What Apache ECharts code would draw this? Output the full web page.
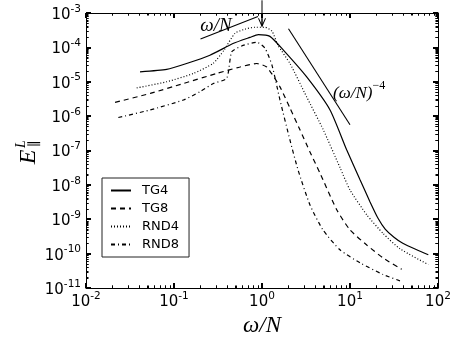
<!DOCTYPE html>
<html><head><meta charset="utf-8">
<script src="https://cdn.jsdelivr.net/npm/echarts@6/dist/echarts.min.js"></script>
<style>html,body{margin:0;padding:0;background:#fff}#c{width:463px;height:348px;background:#fff}</style>
</head><body><div id="c"></div>
<script>
// ---- data (x = omega/N, y = E_par^L) ----
const tg4X = [0.0411, 0.0826, 0.139, 0.256, 0.468, 0.731, 0.908, 1.23, 1.75, 3.22, 5.93, 9.16, 13.0, 16.9, 20.9, 25.1, 31.6, 39.8, 57.3, 77.6];
const tg4Y = [1.95e-5, 2.29e-5, 3.39e-5, 5.9e-5, 1.29e-4, 1.95e-4, 2.34e-4, 2.09e-4, 8.3e-5, 1.38e-5, 1.51e-6, 1.05e-7, 1.41e-8, 3.2e-9, 1.05e-9, 5.2e-10, 3.0e-10, 2.0e-10, 1.29e-10, 9.3e-11];

const tg8X = [0.0214, 0.0537, 0.128, 0.305, 0.562, 0.871, 1.13, 1.60, 2.08, 2.70, 3.51, 4.56, 7.06, 10.0, 15.5, 23.9, 38.7];
const tg8Y = [2.51e-6, 4.57e-6, 8.9e-6, 1.74e-5, 2.69e-5, 3.39e-5, 2.69e-5, 7.1e-6, 1.7e-6, 4.0e-7, 9.1e-8, 2.2e-8, 1.9e-9, 4.9e-10, 1.78e-10, 7.4e-11, 3.5e-11];

const rnd4X = [0.0377, 0.0826, 0.166, 0.280, 0.370, 0.493, 0.641, 0.83, 1.08, 1.30, 1.52, 2.08, 3.22, 4.97, 7.69, 10.0, 15.5, 23.9, 37.0, 77.6];
const rnd4Y = [6.6e-6, 1.0e-5, 1.74e-5, 3.47e-5, 8.3e-5, 2.57e-4, 3.39e-4, 3.85e-4, 3.85e-4, 2.95e-4, 1.15e-4, 3.4e-5, 3.6e-6, 4.0e-7, 3.2e-8, 7.1e-9, 1.35e-9, 3.8e-10, 1.38e-10, 4.8e-11];

const rnd8X = [0.0233, 0.0533, 0.128, 0.197, 0.280, 0.397, 0.453, 0.588, 0.871, 1.08, 1.30, 1.60, 2.08, 2.57, 3.51, 4.93, 7.69, 13.0, 23.9, 38.7];
const rnd8Y = [9.1e-7, 1.51e-6, 2.95e-6, 5.1e-6, 8.9e-6, 1.26e-5, 7.4e-5, 1.10e-4, 1.41e-4, 9.5e-5, 3.0e-5, 2.95e-6, 2.0e-7, 2.7e-8, 2.6e-9, 4.9e-10, 1.29e-10, 5.4e-11, 2.45e-11, 1.55e-11];

// reference slopes and arrow
const slope1X = [0.2, 0.9];
const slope1Y = [1.75e-4, 7.9e-4];
const slope4X = [2.0, 10.0];
const slope4Y = [3.5e-4, 5.6e-7];
const arrowX = [1.0, 1.0];
const arrowY = [2.34e-3, 4.1e-4];

// axis ticks / tick labels
const majorX = [0.01, 0.1, 1, 10, 100];
const majorY = [1e-11, 1e-10, 1e-9, 1e-8, 1e-7, 1e-6, 1e-5, 1e-4, 1e-3];
const minorMult = [2, 3, 4, 5, 6, 7, 8, 9];

function minors(majors) {
  const out = [];
  for (let i = 0; i < majors.length - 1; i++) {
    for (const m of minorMult) out.push(+(majors[i] * m).toPrecision(3));
  }
  return out;
}
const minorX = minors(majorX);
const minorY = minors(majorY);
const zip = (xs, ys) => xs.map((x, i) => [x, ys[i]]);

const xMin = majorX[0], xMax = majorX[majorX.length - 1];
const yMin = majorY[0], yMax = majorY[majorY.length - 1];

const tickFont = 'DejaVu Sans';
const labelRich = {
  b: { fontSize: 15, fontFamily: tickFont, color: '#000', verticalAlign: 'bottom', lineHeight: 19 },
  s: { fontSize: 10.5, fontFamily: tickFont, color: '#000', verticalAlign: 'top', lineHeight: 12 }
};
const fmt = v => '{b|10}{s|' + Math.round(Math.log10(v)) + '}';

function axisSet(isX) {
  const major = isX ? majorX : majorY;
  const base = {
    type: 'log', min: major[0], max: major[major.length - 1], interval: 1,
    splitLine: { show: false },
    axisLine: { show: true, lineStyle: { color: '#000', width: 1 } },
    axisTick: { show: true, inside: true, length: 5, lineStyle: { color: '#000', width: 2 } },
    minorTick: { show: true, splitNumber: 9, length: 2.5, lineStyle: { color: '#000' } }
  };
  return [
    Object.assign({}, base, {
      position: isX ? 'bottom' : 'left',
      axisLabel: { show: true, customValues: major, formatter: fmt, rich: labelRich, margin: isX ? 3 : 5, hideOverlap: false, showMinLabel: true, showMaxLabel: true }
    }),
    Object.assign({}, base, {
      position: isX ? 'top' : 'right',
      axisLabel: { show: false }
    })
  ];
}

const xAxes = axisSet(true);
xAxes[0].name = 'ω/N';
xAxes[0].nameLocation = 'middle';
xAxes[0].nameGap = 12;
xAxes[0].nameTextStyle = { fontFamily: 'Liberation Serif', fontStyle: 'italic', fontSize: 23, color: '#000', verticalAlign: 'top' };
const yAxes = axisSet(false);

// inward ticks on all four sides, placed through the axes' own scales
function tickSeries(values, isX, len) {
  return {
    type: 'custom', xAxisIndex: 0, yAxisIndex: 0, clip: false, silent: true, z: 3,
    data: values.map(v => isX ? [v, yMin] : [xMin, v]),
    renderItem: function (params, api) {
      const v = api.value(isX ? 0 : 1);
      const a = isX ? api.coord([v, yMin]) : api.coord([xMin, v]);
      const b = isX ? api.coord([v, yMax]) : api.coord([xMax, v]);
      const st = { stroke: '#000', lineWidth: 1 };
      if (isX) {
        const x = Math.round(a[0]) + 0.5;
        return { type: 'group', children: [
          { type: 'line', shape: { x1: x, y1: a[1], x2: x, y2: a[1] - len }, style: st },
          { type: 'line', shape: { x1: x, y1: b[1], x2: x, y2: b[1] + len }, style: st }
        ] };
      }
      const y = Math.round(a[1]) + 0.5;
      return { type: 'group', children: [
        { type: 'line', shape: { x1: a[0], y1: y, x2: a[0] + len, y2: y }, style: st },
        { type: 'line', shape: { x1: b[0], y1: y, x2: b[0] - len, y2: y }, style: st }
      ] };
    }
  };
}

function curve(name, xs, ys, type) {
  return {
    name: name, type: 'line', data: zip(xs, ys), xAxisIndex: 0, yAxisIndex: 0,
    showSymbol: false, symbol: 'none', smooth: 0.2,
    lineStyle: { color: '#000', width: 1.2, type: type },
    itemStyle: { color: '#000' }, emphasis: { disabled: true }
  };
}

const option = {
  animation: false,
  grid: { left: 86, right: 25, top: 13, bottom: 60, containLabel: false },
  xAxis: xAxes,
  yAxis: yAxes,
  legend: {
    data: ['TG4', 'TG8', 'RND4', 'RND8'],
    orient: 'vertical', left: 102, top: 178,
    padding: [6, 10, 6, 8], itemGap: 5, itemWidth: 20, itemHeight: 14,
    borderColor: '#222', borderWidth: 1, borderRadius: 0, backgroundColor: '#fff',
    itemStyle: { opacity: 0 },
    textStyle: { fontFamily: tickFont, fontSize: 13, color: '#000', padding: [0, 0, 0, 6] },
    selectedMode: false, z: 10
  },
  series: [
    tickSeries(majorX, true, 5),
    tickSeries(minorX, true, 2.5),
    tickSeries(majorY, false, 5),
    tickSeries(minorY, false, 2.5),
    curve('TG4', tg4X, tg4Y, 'solid'),
    curve('TG8', tg8X, tg8Y, [5, 4]),
    curve('RND4', rnd4X, rnd4Y, [1, 2]),
    curve('RND8', rnd8X, rnd8Y, [4, 3, 1, 3]),
    { type: 'line', data: zip(slope1X, slope1Y), symbol: 'none', lineStyle: { color: '#000', width: 1.1 }, emphasis: { disabled: true } },
    { type: 'line', data: zip(slope4X, slope4Y), symbol: 'none', lineStyle: { color: '#000', width: 1.1 }, emphasis: { disabled: true } },
    {
      type: 'line', clip: false, z: 5,
      data: [
        { value: [arrowX[0], arrowY[0]], symbol: 'none' },
        { value: [arrowX[1], arrowY[1]], symbol: 'path://M0,0 L4,7 L8,0 M4,7 L4,0', symbolSize: [7, 8], symbolOffset: [0, -4] }
      ],
      showSymbol: true,
      lineStyle: { color: '#000', width: 1 },
      itemStyle: { color: 'rgba(0,0,0,0)', borderColor: '#000', borderWidth: 1 },
      emphasis: { disabled: true }
    }
  ],
  graphic: [
    { type: 'text', x: 216, y: 26, style: { text: 'ω/N', font: 'italic 19px "Liberation Serif"', fill: '#000', align: 'center', verticalAlign: 'middle' } },
    { type: 'text', x: 333, y: 91, style: {
        text: '{m|(ω/N)}{s|−4}', align: 'left', verticalAlign: 'middle',
        rich: {
          m: { font: 'italic 17px "Liberation Serif"', fill: '#000', verticalAlign: 'bottom', lineHeight: 22 },
          s: { font: '12px "Liberation Serif"', fill: '#000', verticalAlign: 'top', lineHeight: 12 }
        } } },
    { type: 'text', x: 29, y: 157, rotation: Math.PI / 2, style: { text: 'E', font: 'italic 24px "Liberation Serif"', fill: '#000', align: 'center', verticalAlign: 'middle' } },
    { type: 'text', x: 21, y: 144, rotation: Math.PI / 2, style: { text: 'L', font: 'italic 14px "Liberation Serif"', fill: '#000', align: 'center', verticalAlign: 'middle' } },
    { type: 'text', x: 35, y: 144, rotation: Math.PI / 2, style: { text: '∥', font: '14px "DejaVu Serif"', fill: '#000', align: 'center', verticalAlign: 'middle' } }
  ]
};
const chart = echarts.init(document.getElementById('c'), null, { renderer: 'canvas' });
chart.setOption(option);
</script>
</body></html>
